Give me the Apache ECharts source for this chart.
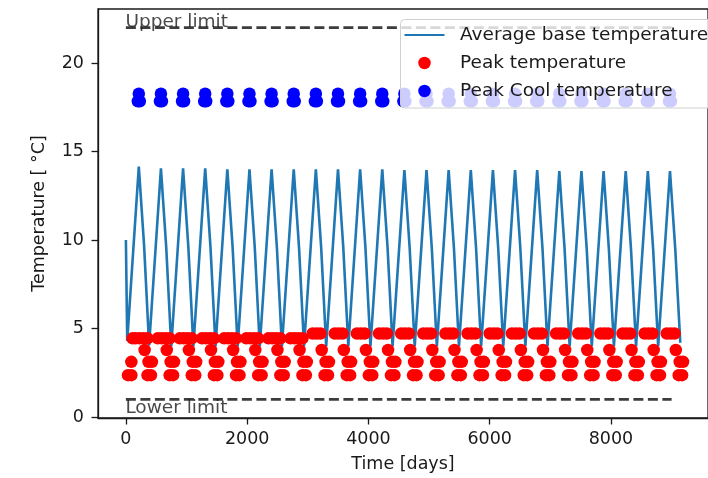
<!DOCTYPE html>
<html>
<head>
<meta charset="utf-8">
<script src="https://cdn.jsdelivr.net/npm/echarts@6/dist/echarts.min.js"></script>
<style>
  html, body { margin: 0; padding: 0; background: #fff; }
  #chart { width: 708px; height: 478px; }
</style>
</head>
<body>
<div id="chart"></div>
<script>
// tick labels
const xTicks = [0, 2000, 4000, 6000, 8000];
const yTicks = [0, 5, 10, 15, 20];

// limits
const limitDays = [0, 9000];
const upperLimit = 22;
const lowerLimit = 1;

// average base temperature (day, degC)
const avgDays = [0, 22,
  213, 300, 383, 578, 665, 748, 943, 1030, 1113, 1308, 1395, 1478,
  1673, 1760, 1843, 2038, 2125, 2208, 2403, 2490, 2573, 2768, 2855, 2938,
  3133, 3220, 3303, 3498, 3585, 3668, 3863, 3950, 4033, 4228, 4315, 4398,
  4593, 4680, 4763, 4958, 5045, 5128, 5323, 5410, 5493, 5688, 5775, 5858,
  6053, 6140, 6223, 6418, 6505, 6588, 6783, 6870, 6953, 7148, 7235, 7318,
  7513, 7600, 7683, 7878, 7965, 8048, 8243, 8330, 8413, 8608, 8695, 8778,
  8973, 9060, 9143];
const avgTemp = [10.0, 4.3,
  14.15, 9.7, 4.05, 14.05, 9.6, 4.0, 14.05, 9.6, 4.0, 14.05, 9.6, 4.0,
  14.0, 9.6, 4.0, 14.0, 9.6, 4.0, 14.0, 9.6, 4.0, 14.0, 9.6, 4.0,
  14.0, 9.6, 4.0, 14.0, 9.6, 4.0, 14.0, 9.6, 4.0, 14.0, 9.6, 4.0,
  13.95, 9.55, 4.0, 13.95, 9.55, 4.0, 13.95, 9.55, 4.0, 13.95, 9.55, 4.0,
  13.95, 9.55, 4.0, 13.95, 9.55, 4.0, 13.95, 9.55, 4.0, 13.9, 9.5, 4.0,
  13.9, 9.5, 4.0, 13.9, 9.5, 4.0, 13.9, 9.5, 4.0, 13.9, 9.5, 4.0,
  13.9, 9.5, 4.2];

// peak temperature rows (days per row, one level per row)
const peakTopEarlyDays = [110, 160, 225, 289, 357, 525, 590, 654, 722, 890, 955, 1019, 1087,
  1255, 1320, 1384, 1452, 1620, 1685, 1749, 1817, 1985, 2050, 2114, 2182,
  2350, 2415, 2479, 2547, 2715, 2780, 2844, 2912];
const peakTopEarlyLevel = 4.45;
const peakTopLateDays = [3080, 3145, 3209, 3445, 3510, 3574, 3810, 3875, 3939,
  4175, 4240, 4304, 4540, 4605, 4669, 4905, 4970, 5034, 5270, 5335, 5399,
  5635, 5700, 5764, 6000, 6065, 6129, 6365, 6430, 6494, 6730, 6795, 6859,
  7095, 7160, 7224, 7460, 7525, 7589, 7825, 7890, 7954, 8190, 8255, 8319,
  8555, 8620, 8684, 8920, 8985, 9049];
const peakTopLateLevel = 4.72;
const peakRow2Days = [309, 674, 1039, 1404, 1769, 2134, 2499, 2864, 3229, 3594,
  3959, 4324, 4689, 5054, 5419, 5784, 6149, 6514, 6879, 7244, 7609, 7974,
  8339, 8704, 9069];
const peakRow2Level = 3.79;
const peakRow3Days = [90, 373, 429, 738, 794, 1103, 1159, 1468, 1524, 1833, 1889,
  2198, 2254, 2563, 2619, 2928, 2984, 3293, 3349, 3658, 3714, 4023, 4079,
  4388, 4444, 4753, 4809, 5118, 5174, 5483, 5539, 5848, 5904, 6213, 6269,
  6578, 6634, 6943, 6999, 7308, 7364, 7673, 7729, 8038, 8094, 8403, 8459,
  8768, 8824, 9133, 9189];
const peakRow3Level = 3.12;
const peakRow4Days = [35, 90, 357, 413, 722, 778, 1087, 1143, 1452, 1508, 1817, 1873,
  2182, 2238, 2547, 2603, 2912, 2968, 3277, 3333, 3642, 3698, 4007, 4063,
  4372, 4428, 4737, 4793, 5102, 5158, 5467, 5523, 5832, 5888, 6197, 6253,
  6562, 6618, 6927, 6983, 7292, 7348, 7657, 7713, 8022, 8078, 8387, 8443,
  8752, 8808, 9117, 9173];
const peakRow4Level = 2.37;

// peak cool temperature (each blob: one dot on top, two below)
const coolTopDays = [213, 578, 943, 1308, 1673, 2038, 2403, 2768, 3133, 3498,
  3863, 4228, 4593, 4958, 5323, 5688, 6053, 6418, 6783, 7148, 7513, 7878,
  8243, 8608, 8973];
const coolTopLevel = 18.27;
const coolLowDays = [197, 229, 562, 594, 927, 959, 1292, 1324, 1657, 1689,
  2022, 2054, 2387, 2419, 2752, 2784, 3117, 3149, 3482, 3514, 3847, 3879,
  4212, 4244, 4577, 4609, 4942, 4974, 5307, 5339, 5672, 5704, 6037, 6069,
  6402, 6434, 6767, 6799, 7132, 7164, 7497, 7529, 7862, 7894, 8227, 8259,
  8592, 8624, 8957, 8989];
const coolLowLevel = 17.84;

const FONT = "DejaVu Sans";
const TXT = "#1a1a1a";
const FS = 18.5;   // legend and in-plot text
const FS_AX = 17.5; // ticks and axis titles

const at = (days, level) => days.map((d) => [d, level]);

const chart = echarts.init(document.getElementById("chart"));

const limitLine = (name, level) => ({
  name, type: "line", silent: true, symbol: "none",
  data: at(limitDays, level),
  lineStyle: { color: "#3c3c3c", width: 2.6, type: [10, 4.5] },
  z: 3,
});

chart.setOption({
  animation: false,
  backgroundColor: "#fff",
  textStyle: { fontFamily: FONT },
  grid: { left: 98, right: -17, top: 9, bottom: 60, show: true, borderColor: TXT, borderWidth: 1.3 },
  xAxis: {
    type: "value", min: -460, max: 9600,
    name: "Time [days]", nameLocation: "middle", nameGap: 37,
    nameTextStyle: { fontSize: FS_AX, color: TXT, fontFamily: FONT },
    axisLine: { show: true, onZero: false, lineStyle: { color: TXT, width: 1.3 } },
    axisTick: { show: true, length: 6.5, customValues: xTicks, lineStyle: { color: TXT, width: 1.3 } },
    axisLabel: { customValues: xTicks, margin: 12, fontSize: FS_AX, color: TXT, fontFamily: FONT, formatter: (v) => String(v) },
    splitLine: { show: false },
  },
  yAxis: {
    type: "value", min: -0.05, max: 23.05,
    name: "Temperature [ °C]", nameLocation: "middle", nameGap: 50, nameRotate: 90,
    nameTextStyle: { fontSize: FS_AX, color: TXT, fontFamily: FONT },
    axisLine: { show: true, onZero: false, lineStyle: { color: TXT, width: 1.3 } },
    axisTick: { show: true, length: 6.5, customValues: yTicks, lineStyle: { color: TXT, width: 1.3 } },
    axisLabel: { customValues: yTicks, margin: 14, fontSize: FS_AX, color: TXT, fontFamily: FONT, formatter: (v) => String(v) },
    splitLine: { show: false },
  },
  legend: {
    data: [
      { name: "Average base temperature", itemStyle: { opacity: 0 } },
      { name: "Peak temperature", icon: "circle" },
      { name: "Peak Cool temperature", icon: "circle" },
    ],
    orient: "vertical", left: 400.5, top: 19.5,
    padding: [5.5, 24, 7, 3],
    itemWidth: 40, itemHeight: 12.5, itemGap: 8,
    backgroundColor: "rgba(255,255,255,0.8)",
    borderColor: "#d0d0d0", borderWidth: 1, borderRadius: 4,
    textStyle: { fontSize: FS, color: TXT, fontFamily: FONT, lineHeight: 20, padding: [0, 0, 0, 10.5] },
  },
  series: [
    {
      name: "Average base temperature", type: "line", symbol: "none",
      data: avgDays.map((d, i) => [d, avgTemp[i]]),
      lineStyle: { color: "#1f77b4", width: 2.6 },
      itemStyle: { color: "#1f77b4" },
      z: 2,
    },
    {
      name: "Peak temperature", type: "scatter", symbol: "circle", symbolSize: 12.5,
      data: [
        ...at(peakTopEarlyDays, peakTopEarlyLevel),
        ...at(peakTopLateDays, peakTopLateLevel),
        ...at(peakRow2Days, peakRow2Level),
        ...at(peakRow3Days, peakRow3Level),
        ...at(peakRow4Days, peakRow4Level),
      ],
      itemStyle: { color: "#ff0000", opacity: 1 },
      z: 2,
    },
    {
      name: "Peak Cool temperature", type: "scatter", symbol: "circle", symbolSize: 12.5,
      data: [...at(coolLowDays, coolLowLevel), ...at(coolTopDays, coolTopLevel)],
      itemStyle: { color: "#0000ff", opacity: 1 },
      z: 2,
    },
    limitLine("Upper limit", upperLimit),
    limitLine("Lower limit", lowerLimit),
    {
      name: "limit text", type: "scatter", silent: true, symbolSize: 1,
      itemStyle: { color: "transparent" },
      data: [
        { value: [limitDays[0], upperLimit], label: { show: true, formatter: "Upper limit", position: [0, 0], align: "left", verticalAlign: "bottom", offset: [0, 4.5], fontSize: FS, color: TXT, fontFamily: FONT } },
        { value: [limitDays[0], lowerLimit], label: { show: true, formatter: "Lower limit", position: [0, 0], align: "left", verticalAlign: "top", offset: [0, 0], fontSize: FS, color: TXT, fontFamily: FONT } },
      ],
      z: 3,
    },
  ],
});
</script>
</body>
</html>
